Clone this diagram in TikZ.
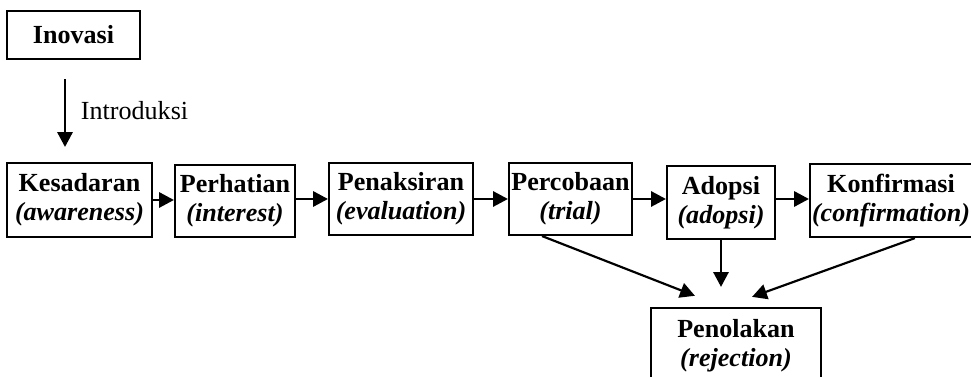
\documentclass[tikz,border=0pt]{standalone}
\usepackage{fontspec}
\setmainfont{Liberation Serif}
\usetikzlibrary{arrows.meta, positioning}

\begin{document}
\begin{tikzpicture}[
    x=0.46pt, y=-0.46pt,
    stagebox/.style={draw, line width=1pt, inner sep=0.5pt, align=center, font=\fontsize{12}{13.5}\selectfont\bfseries},
    arrow/.style={-{Triangle[length=6.8pt, width=7pt]}, line width=1pt}
]
    \useasboundingbox (0,0) rectangle (971,377);

    \node[stagebox, minimum width=61.2pt, minimum height=22.1pt] (inovasi) at (73.5,35) {Inovasi};
    \node[stagebox, minimum width=66.7pt, minimum height=34pt] (kesadaran) at (79.5,200) {Kesadaran\\\textit{(awareness)}};
    \node[stagebox, minimum width=55.2pt, minimum height=33.1pt] (perhatian) at (235,201) {Perhatian\\\textit{(interest)}};
    \node[stagebox, minimum width=66.2pt, minimum height=33.1pt] (penaksiran) at (401,199) {Penaksiran\\\textit{(evaluation)}};
    \node[stagebox, minimum width=56.6pt, minimum height=33.1pt] (percobaan) at (570.5,199) {Percobaan\\\textit{(trial)}};
    \node[stagebox, minimum width=49.7pt, minimum height=33.6pt] (adopsi) at (721,202.5) {Adopsi\\\textit{(adopsi)}};
    \node[stagebox, minimum width=74.5pt, minimum height=33.6pt] (konfirmasi) at (891,200.5) {Konfirmasi\\\textit{(confirmation)}};
    \node[stagebox, minimum width=78.2pt, minimum height=35pt] (penolakan) at (736,346) {Penolakan\\\textit{(rejection)}};

    \draw[arrow, shorten <=8.7pt, shorten >=6.9pt] (inovasi.south -| 65,0) -- (kesadaran.north -| 65,0)
        node[midway, right=3.5pt, font=\fontsize{12}{13.5}\selectfont] (introduksi) {Introduksi};

    \draw[arrow] (kesadaran.east) -- (kesadaran.east -| perhatian.west);
    \draw[arrow] (perhatian.east |- penaksiran.east) -- (penaksiran.west);
    \draw[arrow] (penaksiran.east) -- (percobaan.west);
    \draw[arrow] (percobaan.east) -- (percobaan.east -| adopsi.west);
    \draw[arrow] (adopsi.east |- percobaan.east) -- (percobaan.east -| konfirmasi.west);

    \draw[arrow] ([xshift=-13.1pt]percobaan.south) -- ([xshift=-18.9pt, yshift=5.1pt]penolakan.north);
    \draw[arrow, shorten >=9.2pt] (adopsi.south) -- (adopsi.south |- penolakan.north);
    \draw[arrow] ([xshift=11pt]konfirmasi.south) -- ([xshift=7.4pt, yshift=4.6pt]penolakan.north);
\end{tikzpicture}
\end{document}
